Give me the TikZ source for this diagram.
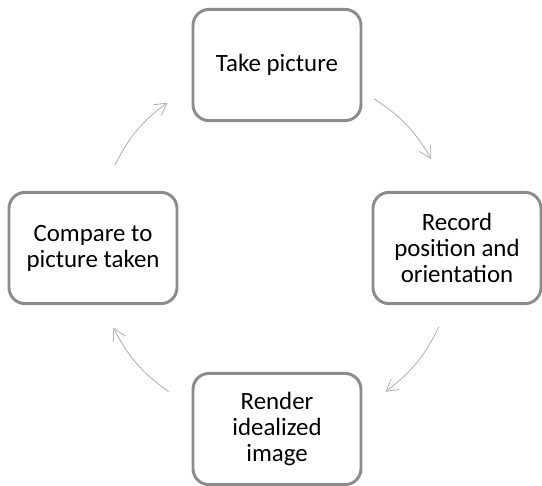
\documentclass[tikz,border=0pt]{standalone}
\usepackage{fontspec}
\setmainfont{Carlito}
\usetikzlibrary{arrows.meta, positioning}
\tikzset{
    phase/.style={rectangle, rounded corners=0.4cm, draw=black!45, line width=2.1pt, fill=white, minimum width=4.2cm, minimum height=2.78cm, align=center, font=\fontsize{17.7}{18.4}\selectfont},
    cyclearrow/.style={-{Straight Barb[length=2.9mm, width=3.3mm]}, draw=black!30, line width=0.6pt},
}
\begin{document}
\begin{tikzpicture}
        \useasboundingbox (-6.925,-5.925) rectangle (6.625,6.2);
        % Steps of the cycle
        \node[phase] (take) at (0,4.575) {Take picture};
        \node[phase] (record) at (4.5,0) {Record\\position and\\orientation};
        \node[phase] (render) at (0,-4.525) {Render\\idealized\\image};
        \node[phase] (compare) at (-4.6,0) {Compare to\\picture taken};

        % Arrow ends on the circle
        \coordinate (takeout) at (57:4.45);
        \coordinate (recordin) at (30:4.45);
        \coordinate (recordout) at (-26:4.5);
        \coordinate (renderin) at (-53:4.5);
        \coordinate (renderout) at (-127:4.5);
        \coordinate (comparein) at (-154:4.55);
        \coordinate (compareout) at (153:4.55);
        \coordinate (takein) at (127:4.55);

        % Arrows
        \draw[cyclearrow] (takeout) to[bend left=13.5] (recordin);
        \draw[cyclearrow] (recordout) to[bend left=13.5] (renderin);
        \draw[cyclearrow] (renderout) to[bend left=13.5] (comparein);
        \draw[cyclearrow] (compareout) to[bend left=13.5] (takein);
    \end{tikzpicture}
\end{document}
